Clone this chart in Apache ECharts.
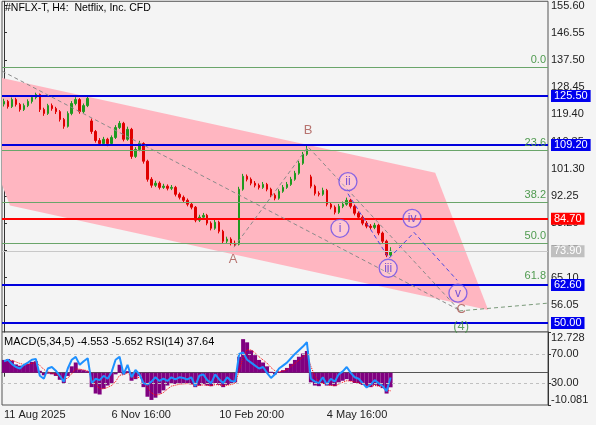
<!DOCTYPE html>
<html><head><meta charset="utf-8">
<script src="https://cdn.jsdelivr.net/npm/echarts@6/dist/echarts.min.js"></script>
<style>html,body{margin:0;padding:0;background:#f4f4f4}#c{width:596px;height:425px}</style>
</head><body><div id="c"></div>
<script>
const chartTitle = '#NFLX-T, H4:  Netflix, Inc. CFD';
const opens = [122.8,123.7,122.0,124.3,122.7,121.0,122.3,123.7,125.0,126.0, 121.0,119.7,122.3,121.3,120.3,117.7,115.4,119.7,123.0,124.3, 120.3,122.3,117.2,113.7,110.7,109.7,111.1,109.7,111.7,115.0, 116.4,111.1,114.4,105.4,107.7,109.7,103.8,97.8,95.8,96.5, 95.1,95.5,94.8,95.1,92.8,91.8,90.8,89.5,88.5,84.2, 85.2,85.8,83.2,81.5,83.5,80.5,77.2,77.9,76.5,76.2, 94.5,98.8,97.8,96.5,95.8,95.1,96.1,94.5,92.5,91.5, 93.8,95.1,96.1,97.8,99.8,103.1,106.1,98.6,95.5,93.1, 92.8,94.1,89.5,88.5,86.8,88.8,89.5,90.8,88.8,86.5, 85.2,83.2,82.2,81.8,82.5,79.9,77.2,72.6];
const closes = [123.7,122.0,124.3,122.7,121.0,122.3,123.7,125.0,126.0,121.0, 119.7,122.3,121.3,120.3,117.7,115.4,119.7,123.0,124.3,120.3, 122.3,124.7,113.7,110.7,109.7,111.1,109.7,111.7,115.0,116.4, 111.1,114.4,105.4,107.7,109.7,103.8,97.8,95.8,96.5,95.1, 95.5,94.8,95.1,92.8,91.8,90.8,89.5,88.5,84.2,85.2, 85.8,83.2,81.5,83.5,80.5,77.2,77.9,76.5,75.9,94.5, 98.8,97.8,96.5,95.8,95.1,96.1,94.5,92.5,91.5,93.8, 95.1,96.1,97.8,99.8,103.1,106.1,107.7,95.5,93.1,92.8, 94.1,89.5,88.5,86.8,88.8,89.5,90.8,88.8,86.5,85.2, 83.2,82.2,81.8,82.5,79.9,77.2,72.6,73.9];
const highs = [124.6,124.2,125.0,124.9,123.2,123.0,124.4,125.7,126.6,126.3, 121.6,122.9,123.0,121.9,120.8,118.2,120.4,123.8,125.1,124.8, 123.0,125.4,118.0,114.2,111.5,111.9,111.6,112.4,115.8,117.2, 116.9,115.3,114.9,108.5,110.6,110.1,104.3,98.5,97.3,97.1, 96.3,96.1,95.9,95.6,93.4,92.4,91.4,90.1,88.9,86.0, 86.6,86.3,83.8,84.8,84.0,81.0,78.7,78.5,77.4,95.3, 99.6,99.4,98.4,97.2,96.4,96.9,96.6,95.0,93.1,94.5, 95.9,96.9,98.6,100.6,103.9,106.9,109.1,99.3,96.0,93.8, 95.0,94.6,90.2,89.1,89.6,90.4,91.7,91.3,89.4,87.1, 85.8,83.9,82.9,83.3,83.0,80.4,77.7,75.2];
const lows = [122.0,121.3,121.5,122.0,120.3,120.5,121.8,123.0,124.4,120.2, 118.9,119.2,120.6,119.5,117.0,114.6,115.0,119.1,122.4,119.6, 119.8,121.8,112.9,110.0,108.9,109.0,108.8,109.1,111.2,114.5, 110.4,110.6,104.6,104.9,107.1,103.0,97.0,95.0,95.2,94.4, 94.6,94.1,94.2,92.1,91.1,90.1,88.8,87.8,83.5,83.6, 84.7,82.5,80.8,81.0,79.8,76.5,76.6,75.8,75.3,75.8, 94.0,97.1,95.8,95.1,94.4,94.6,93.8,91.8,90.8,91.0, 93.3,94.6,95.6,97.3,99.3,102.6,105.6,94.8,92.4,92.1, 92.3,88.8,87.8,86.1,86.3,88.2,89.0,88.1,85.8,84.5, 82.5,81.5,81.1,81.2,79.2,76.5,71.9,72.1];
const macd = [4.0,4.3,3.8,2.6,2.2,2.4,2.8,3.4,3.6,0.6, -0.8,-0.3,-0.5,-1.0,-2.2,-3.2,-1.0,2.0,3.2,1.0, 0.8,0.5,-4.5,-6.5,-6.8,-5.0,-4.0,-3.2,-0.5,2.5, -0.5,0.5,-2.5,-2.0,-1.0,-4.5,-7.5,-8.5,-7.8,-6.5, -5.5,-4.0,-3.2,-3.5,-3.3,-3.4,-3.2,-3.6,-4.5,-4.0, -3.5,-4.0,-4.2,-3.2,-3.8,-4.5,-3.8,-3.5,-3.0,5.0, 10.5,9.5,7.0,5.5,4.0,3.2,2.0,0.3,-0.5,0.3, 0.8,1.5,2.8,4.0,5.0,6.0,6.8,-3.0,-4.0,-4.2, -3.5,-4.0,-4.0,-4.2,-3.0,-2.5,-2.0,-2.6,-3.2,-3.5, -3.8,-4.2,-4.5,-3.8,-4.2,-4.8,-6.5,-4.553];
const signal = [3.5,3.8,3.9,3.4,2.9,2.6,2.6,2.9,3.2,2.3, 1.0,0.3,-0.1,-0.5,-1.2,-2.0,-1.7,-0.3,1.2,1.1, 0.9,0.6,-1.5,-3.5,-5.0,-5.0,-4.6,-4.0,-2.8,-0.8, -0.6,-0.1,-1.2,-1.6,-1.4,-2.6,-4.5,-6.3,-7.0,-6.8, -6.2,-5.1,-4.2,-3.9,-3.6,-3.5,-3.4,-3.5,-3.9,-4.0, -3.8,-3.9,-4.1,-3.7,-3.8,-4.1,-3.9,-3.7,-3.3,0.5, 4.8,7.2,7.1,6.2,5.0,4.0,3.0,1.6,0.6,0.3, 0.5,1.0,1.9,2.9,3.9,4.9,5.9,2.0,-1.0,-2.8, -3.3,-3.7,-3.9,-4.1,-3.6,-3.0,-2.5,-2.6,-2.9,-3.2, -3.5,-3.9,-4.2,-4.0,-4.1,-4.5,-5.5,-5.652];
const rsi = [60,62,56,52,50,55,58,62,63,40, 36,50,52,47,40,32,50,62,66,55, 60,64,30,36,34,40,36,45,62,66, 42,55,38,48,42,30,28,32,38,33, 36,33,38,35,38,37,35,38,26,40, 42,34,30,42,35,30,38,33,32,70, 72,62,58,54,50,52,44,37,42,50, 54,58,64,70,75,80,86,36,32,30, 38,28,36,32,42,46,52,44,38,36, 30,24,28,34,30,26,19,37.64];
const totalSlots = 137;
const tickIndex = [0,27,54,81];
const tickLabels = ['11 Aug 2025','6 Nov 16:00','10 Feb 20:00','4 May 16:00'];
const priceTicks = [56.05,65.10,74.15,83.20,92.25,101.30,110.35,119.40,128.45,137.50,146.55,155.60];
const macdTicks = [-10.081, 12.728];
const rsiTicks = [30, 70];
const blueLevels = [125.50,109.20,62.60,50.00];
const redLevel = 84.70;
const lastPrice = 73.90;
const fibLevels = [134.9,107.4,90.24,76.54,63.03];
const fibNames = ['0.0','23.6','38.2','50.0','61.8'];
const channel = [[-11.8,134.8],[108.2,100.0],[121.5,54.3],[1.5,89.1]];
const trendLine = [[-0.5,133.8],[114.2,54.3]];
const abcPath = [[57.7,75.2],[76.3,108.6],[114.2,54.3]];
const wave4Line = [[114.2,54.0],[136.5,56.6]];
const subPath = [[86.3,93.0],[96.6,71.5],[102.9,80.1],[113.7,64.2]];
const waveLetters = [{name:'A',value:[57.5,71.2]},{name:'B',value:[76.3,113.9]},{name:'C',value:[114.7,54.6]}];
const wave4Label = [{name:'(4)',value:[114.7,49.0]}];
const subLabels = [{name:'i',value:[84.3,81.5]},{name:'ii',value:[86.3,97.0]},{name:'iii',value:[96.4,68.2]},{name:'iv',value:[102.4,84.8]},{name:'v',value:[113.9,59.9]}];

const FF = 'Liberation Sans, Arial, sans-serif';
const cats = Array.from({length: totalSlots}, (_, i) => String(i));
const isTick = (idx) => tickIndex.indexOf(idx) >= 0;
const candleData = opens.map((o, i) => [o, closes[i], lows[i], highs[i]]);

const chart = echarts.init(document.getElementById('c'), null, {renderer: 'canvas'});
const dashed = (data, color, z) => ({type:'line', xAxisIndex:2, yAxisIndex:0, data, symbol:'none', silent:true, z,
  lineStyle:{color, width:1, type:[4,3]}});

chart.setOption({
  animation: false,
  backgroundColor: '#f4f4f4',
  textStyle: {fontFamily: FF},
  title: [
    {text: chartTitle, left: 5, top: 3, padding: 0, textStyle: {fontSize: 10.5, fontWeight: 'normal', color: '#000', fontFamily: FF}},
    {text: 'MACD(5,34,5) ' + macd[macd.length-1].toFixed(3) + ' ' + signal[signal.length-1].toFixed(3) + ' RSI(14) ' + rsi[rsi.length-1].toFixed(2),
     left: 4, top: 336, padding: 0, textStyle: {fontSize: 11, fontWeight: 'normal', color: '#000', fontFamily: FF}}
  ],
  grid: [
    {left: 2, right: 48, top: 0, height: 332, show: true, borderColor: '#555', borderWidth: 1, backgroundColor: '#f4f4f4'},
    {left: 2, right: 48, top: 332, height: 73, show: true, borderColor: '#555', borderWidth: 1, backgroundColor: '#f4f4f4'}
  ],
  xAxis: [
    {gridIndex: 0, type: 'category', data: cats, boundaryGap: true, axisLine: {show: false}, axisTick: {show: false}, axisLabel: {show: false}, splitLine: {show: false}},
    {gridIndex: 1, type: 'category', data: cats, boundaryGap: true,
     axisLine: {show: true, lineStyle: {color: '#555'}},
     axisTick: {show: true, interval: isTick, alignWithLabel: true, length: 4, lineStyle: {color: '#333'}},
     axisLabel: {show: true, interval: isTick, align: 'left', margin: 4, fontSize: 11, color: '#222', fontFamily: FF,
       formatter: (v, idx) => { const k = tickIndex.indexOf(idx); return k >= 0 ? tickLabels[k] : ''; }},
     splitLine: {show: false}},
    {gridIndex: 0, type: 'value', min: -0.5, max: totalSlots - 0.5, show: false}
  ],
  yAxis: [
    {gridIndex: 0, type: 'value', position: 'right', min: 47, max: 157, splitLine: {show: false},
     axisLine: {show: true, lineStyle: {color: '#333'}},
     axisTick: {show: true, length: 3, customValues: priceTicks, lineStyle: {color: '#333'}},
     axisLabel: {customValues: priceTicks, formatter: v => v.toFixed(2), color: '#222', fontSize: 11, margin: 3, fontFamily: FF}},
    {gridIndex: 1, type: 'value', position: 'right', min: -10.081, max: 12.728, splitLine: {show: false},
     axisLine: {show: true, lineStyle: {color: '#333'}},
     axisTick: {show: true, length: 3, customValues: macdTicks, lineStyle: {color: '#333'}},
     axisLabel: {customValues: macdTicks, margin: 3,
       formatter: v => (v > 0 ? '{t|' : '{b|') + v.toFixed(3) + '}',
       rich: {t: {padding: [11,0,0,0], fontSize: 11, color: '#222', fontFamily: FF}, b: {padding: [0,0,11,0], fontSize: 11, color: '#222', fontFamily: FF}}}},
    {gridIndex: 1, type: 'value', position: 'right', min: 0, max: 100, splitLine: {show: false},
     axisLine: {show: false},
     axisTick: {show: true, length: 3, customValues: rsiTicks, lineStyle: {color: '#333'}},
     axisLabel: {customValues: rsiTicks, formatter: v => v.toFixed(2), color: '#222', fontSize: 11, margin: 3, fontFamily: FF}}
  ],
  series: [
    {type: 'custom', xAxisIndex: 2, yAxisIndex: 0, clip: true, silent: true, z: 1, data: [[0, 100]],
     renderItem: (params, api) => ({type: 'polygon', shape: {points: channel.map(p => api.coord(p))}, style: {fill: '#ffb6c1'}})},
    {type: 'line', xAxisIndex: 2, yAxisIndex: 0, data: [], clip: false, silent: true, z: 2,
     markLine: {silent: true, symbol: ['none','none'], animation: false,
       data: fibLevels.map((v, i) => ({yAxis: v, lineStyle: {color: '#6aa56a', width: 1, type: 'solid'},
         label: {show: true, position: 'insideEndTop', formatter: fibNames[i], color: '#4f9a4f', fontSize: 11, distance: 2, fontFamily: FF}}))}},
    {type: 'line', xAxisIndex: 2, yAxisIndex: 0, data: [], clip: false, silent: true, z: 3,
     markLine: {silent: true, symbol: ['none','none'], animation: false,
       data: [
         {yAxis: lastPrice, lineStyle: {color: '#c8c8c8', width: 1, type: 'solid'},
          label: {show: true, position: 'end', formatter: lastPrice.toFixed(2), backgroundColor: '#c0c0c0', color: '#fff', padding: [1,3,0,3], fontSize: 11, distance: 3, fontFamily: FF}},
         {yAxis: redLevel, lineStyle: {color: '#ff0000', width: 2, type: 'solid'},
          label: {show: true, position: 'end', formatter: redLevel.toFixed(2), backgroundColor: '#ff0000', color: '#fff', padding: [1,3,0,3], fontSize: 11, distance: 3, fontFamily: FF}}
       ].concat(blueLevels.map(v => ({yAxis: v, lineStyle: {color: '#0000dd', width: 2, type: 'solid'},
          label: {show: true, position: 'end', formatter: v.toFixed(2), backgroundColor: '#0000ee', color: '#fff', padding: [1,3,0,3], fontSize: 11, distance: 3, fontFamily: FF}})))}},
    {type: 'candlestick', xAxisIndex: 0, yAxisIndex: 0, data: candleData, barWidth: 2, z: 4, silent: true,
     itemStyle: {color: '#1f9a1f', color0: '#e00000', borderColor: '#1f9a1f', borderColor0: '#e00000', borderWidth: 1}},
    dashed(trendLine, '#8a8a8a', 5),
    dashed(abcPath, '#8a8a8a', 5),
    dashed(wave4Line, '#7a9a7a', 5),
    dashed(subPath, '#4a4ae0', 5),
    {type: 'scatter', xAxisIndex: 2, yAxisIndex: 0, data: waveLetters, symbolSize: 1, silent: true, z: 6,
     itemStyle: {color: 'transparent'},
     label: {show: true, position: 'inside', formatter: p => p.name, color: '#a8524e', fontSize: 13, fontFamily: FF}},
    {type: 'scatter', xAxisIndex: 2, yAxisIndex: 0, data: wave4Label, symbolSize: 1, silent: true, z: 6,
     itemStyle: {color: 'transparent'},
     label: {show: true, position: 'inside', formatter: p => p.name, color: '#3f8f3f', fontSize: 13, fontFamily: FF}},
    {type: 'scatter', xAxisIndex: 2, yAxisIndex: 0, data: subLabels, symbol: 'circle', symbolSize: 18, silent: true, z: 6,
     itemStyle: {color: 'rgba(255,255,255,0.3)', borderColor: '#6a4de8', borderWidth: 1.3},
     label: {show: true, position: 'inside', formatter: p => p.name, color: '#5535d5', fontSize: 12, fontFamily: FF}},
    {type: 'bar', xAxisIndex: 1, yAxisIndex: 1, data: macd, barCategoryGap: '0%', barGap: '0%', silent: true, z: 2,
     itemStyle: {color: '#800080'}},
    {type: 'line', xAxisIndex: 1, yAxisIndex: 1, data: signal, symbol: 'none', silent: true, z: 3,
     lineStyle: {color: '#ff0000', width: 1, type: 'dotted'}},
    {type: 'line', xAxisIndex: 1, yAxisIndex: 2, data: rsi, symbol: 'none', silent: true, z: 4,
     lineStyle: {color: '#1e90ff', width: 2},
     markLine: {silent: true, symbol: ['none','none'], label: {show: false}, animation: false,
       lineStyle: {color: '#c0c0c0', width: 1, type: [3,3]},
       data: rsiTicks.map(v => ({yAxis: v}))}}
  ]
});
</script></body></html>
